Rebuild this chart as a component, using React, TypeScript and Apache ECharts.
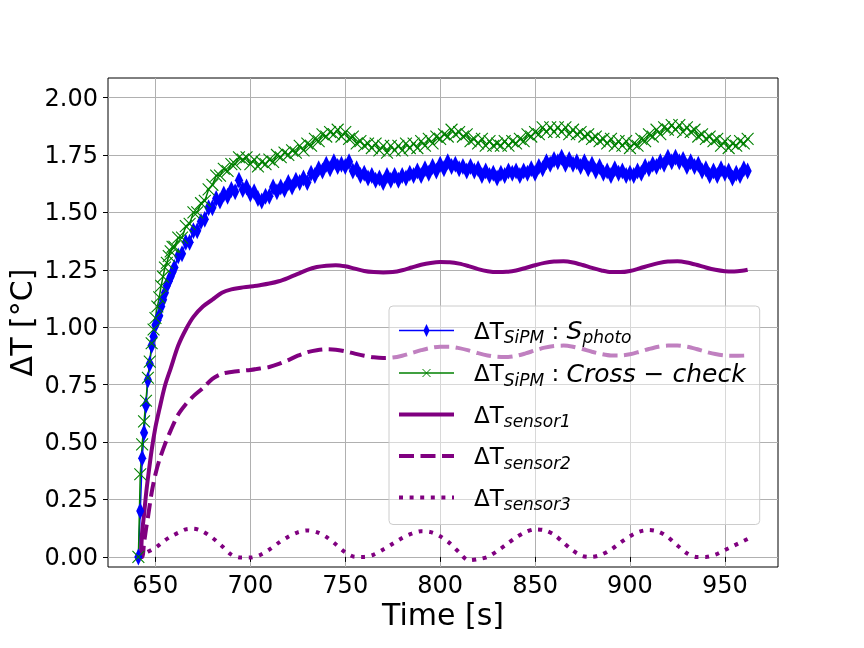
import React, { useEffect, useRef } from 'react';
import * as echarts from 'echarts';

const xTicks = [650, 700, 750, 800, 850, 900, 950];
const yTicks = [0, 0.25, 0.5, 0.75, 1, 1.25, 1.5, 1.75, 2];

const sipmTime = [
  641, 642, 643, 644, 645, 646, 647, 648, 649, 650, 651, 652, 653, 654, 655, 656, 657, 658, 659,
  660, 662, 664, 666, 668, 670, 672, 674, 676, 678,
  680, 682, 684, 686, 688, 690, 692, 694, 696, 698,
  700, 702, 704, 706, 708, 710, 712, 714, 716, 718,
  720, 722, 724, 726, 728, 730, 732, 734, 736, 738,
  740, 742, 744, 746, 748, 750, 752, 754, 756, 758,
  760, 762, 764, 766, 768, 770, 772, 774, 776, 778,
  780, 782, 784, 786, 788, 790, 792, 794, 796, 798,
  800, 802, 804, 806, 808, 810, 812, 814, 816, 818,
  820, 822, 824, 826, 828, 830, 832, 834, 836, 838,
  840, 842, 844, 846, 848, 850, 852, 854, 856, 858,
  860, 862, 864, 866, 868, 870, 872, 874, 876, 878,
  880, 882, 884, 886, 888, 890, 892, 894, 896, 898,
  900, 902, 904, 906, 908, 910, 912, 914, 916, 918,
  920, 922, 924, 926, 928, 930, 932, 934, 936, 938,
  940, 942, 944, 946, 948, 950, 952, 954, 956, 958,
  960, 962,
];

const sipmPhoto = [
  0, 0.2, 0.43, 0.54, 0.66, 0.77, 0.84, 0.92, 0.96, 1.01, 1.03, 1.05, 1.09, 1.12, 1.15, 1.18, 1.2, 1.22, 1.24,
  1.26, 1.31, 1.32, 1.37, 1.37, 1.42, 1.42, 1.46, 1.47, 1.52,
  1.52, 1.56, 1.55, 1.58, 1.57, 1.6, 1.59, 1.64, 1.6, 1.61,
  1.58, 1.59, 1.56, 1.55, 1.57, 1.57, 1.61, 1.59, 1.61, 1.6,
  1.63, 1.61, 1.64, 1.63, 1.65, 1.63, 1.67, 1.66, 1.69, 1.68,
  1.71, 1.69, 1.72, 1.7, 1.71, 1.7, 1.72, 1.68, 1.69, 1.66,
  1.67, 1.65, 1.66, 1.64, 1.65, 1.63, 1.66, 1.64, 1.66, 1.64,
  1.66, 1.65, 1.67, 1.66, 1.68, 1.66, 1.69, 1.67, 1.7, 1.68,
  1.71, 1.69, 1.72, 1.7, 1.71, 1.69, 1.7, 1.68, 1.7, 1.68,
  1.69, 1.66, 1.68, 1.66, 1.67, 1.65, 1.67, 1.66, 1.68, 1.67,
  1.68, 1.66, 1.68, 1.67, 1.69, 1.67, 1.7, 1.69, 1.72, 1.71,
  1.73, 1.72, 1.74, 1.71, 1.73, 1.71, 1.72, 1.7, 1.72, 1.69,
  1.71, 1.68, 1.7, 1.67, 1.68, 1.66, 1.69, 1.67, 1.68, 1.66,
  1.67, 1.66, 1.68, 1.67, 1.7, 1.69, 1.71, 1.7, 1.72, 1.71,
  1.74, 1.72, 1.74, 1.72, 1.73, 1.7, 1.72, 1.7, 1.71, 1.68,
  1.69, 1.66, 1.68, 1.66, 1.69, 1.67, 1.68, 1.65, 1.67, 1.66,
  1.69, 1.68,
];

const sipmCross = [
  0, 0.36, 0.49, 0.59, 0.68, 0.78, 0.85, 0.93, 0.99, 1.04, 1.09, 1.13, 1.18, 1.22, 1.26, 1.28, 1.31, 1.33, 1.35,
  1.35, 1.39, 1.39, 1.44, 1.45, 1.5, 1.5, 1.54, 1.55, 1.6,
  1.62, 1.66, 1.66, 1.69, 1.68, 1.71, 1.71, 1.74, 1.73, 1.74,
  1.71, 1.73, 1.7, 1.72, 1.71, 1.73, 1.72, 1.75, 1.74, 1.76,
  1.75, 1.77, 1.76, 1.79, 1.77, 1.8, 1.79, 1.82, 1.81, 1.84,
  1.83, 1.85, 1.84, 1.86, 1.83, 1.85, 1.82, 1.83, 1.8, 1.81,
  1.79, 1.8, 1.78, 1.8, 1.77, 1.79, 1.76, 1.79, 1.77, 1.79,
  1.77, 1.8, 1.78, 1.8, 1.78, 1.81, 1.79, 1.82, 1.8, 1.83,
  1.82, 1.84, 1.83, 1.86, 1.84, 1.85, 1.83, 1.84, 1.81, 1.82,
  1.8, 1.82, 1.79, 1.81, 1.79, 1.8, 1.79, 1.81, 1.79, 1.81,
  1.8, 1.82, 1.81, 1.84, 1.83, 1.85, 1.84, 1.87, 1.85, 1.87,
  1.85, 1.87, 1.85, 1.87, 1.84, 1.86, 1.84, 1.85, 1.83, 1.84,
  1.82, 1.83, 1.81, 1.82, 1.8, 1.82, 1.79, 1.81, 1.79, 1.81,
  1.78, 1.8, 1.79, 1.82, 1.81, 1.84, 1.83, 1.86, 1.84, 1.87,
  1.86, 1.88, 1.86, 1.88, 1.85, 1.87, 1.85, 1.86, 1.83, 1.84,
  1.82, 1.83, 1.81, 1.82, 1.79, 1.81, 1.78, 1.8, 1.79, 1.81,
  1.8, 1.82,
];

const sensorTime = [
  641, 642, 643, 644, 645, 646, 648, 650, 652, 655, 658, 662, 666, 670,
  675, 680, 685, 690, 695, 700, 705, 710, 715, 720,
  725, 730, 735, 740, 745, 750, 755, 760, 765, 770,
  775, 780, 785, 790, 795, 800, 805, 810, 815, 820,
  825, 830, 835, 840, 845, 850, 855, 860, 865, 870,
  875, 880, 885, 890, 895, 900, 905, 910, 915, 920,
  925, 930, 935, 940, 945, 950, 955, 960,
  962,
];

const sensor1 = [
  0, 0, 0.11, 0.185, 0.27, 0.34, 0.465, 0.565, 0.64, 0.745, 0.82, 0.92, 0.99, 1.045,
  1.09, 1.12, 1.15, 1.165, 1.172, 1.177, 1.183, 1.19, 1.2, 1.215,
  1.232, 1.25, 1.262, 1.268, 1.27, 1.265, 1.255, 1.245, 1.24, 1.238,
  1.24, 1.248, 1.26, 1.272, 1.28, 1.284, 1.283, 1.277, 1.266, 1.253,
  1.244, 1.24, 1.241, 1.247, 1.258, 1.27, 1.28, 1.286, 1.287, 1.282,
  1.271, 1.258, 1.247, 1.24, 1.24, 1.245, 1.256, 1.268, 1.279, 1.286,
  1.287, 1.282, 1.272, 1.26, 1.25, 1.244, 1.243, 1.247,
  1.25,
];

const sensor2 = [
  0, 0, 0, 0.06, 0.12, 0.17, 0.28, 0.36, 0.42, 0.49, 0.55, 0.62, 0.665, 0.7,
  0.735, 0.775, 0.797, 0.805, 0.81, 0.814, 0.82, 0.827, 0.84, 0.857,
  0.876, 0.891, 0.9, 0.904, 0.902, 0.895, 0.885, 0.876, 0.869, 0.866,
  0.868, 0.876, 0.888, 0.9, 0.91, 0.915, 0.915, 0.909, 0.899, 0.887,
  0.877, 0.871, 0.87, 0.875, 0.886, 0.899, 0.911, 0.918, 0.92, 0.915,
  0.905, 0.893, 0.883, 0.877, 0.877, 0.882, 0.893, 0.905, 0.915, 0.92,
  0.92, 0.915, 0.905, 0.893, 0.883, 0.877, 0.876, 0.877,
  0.878,
];

const sensor3 = [
  0, 0.005, 0.01, 0.014, 0.018, 0.022, 0.031, 0.04, 0.052, 0.072, 0.088, 0.105, 0.12, 0.123,
  0.11, 0.083, 0.047, 0.01, -0.003, -0.003, 0.008, 0.032, 0.062, 0.088,
  0.107, 0.115, 0.108, 0.087, 0.055, 0.02, 0.001, 0, 0.01, 0.032,
  0.057, 0.082, 0.101, 0.112, 0.108, 0.09, 0.06, 0.02, -0.015, -0.01,
  0, 0.025, 0.055, 0.085, 0.108, 0.12, 0.116, 0.097, 0.062, 0.027,
  0.004, 0, 0.01, 0.032, 0.062, 0.09, 0.11, 0.117, 0.11, 0.086,
  0.05, 0.016, 0, 0, 0.01, 0.03, 0.05, 0.07,
  0.078,
];

const seriesNames = ['SiPM_photo', 'SiPM_cross', 'sensor1', 'sensor2', 'sensor3'];
const legendLabels: Record<string, string> = {
  SiPM_photo: '{t|ΔT}{s|SiPM}{t| : }{i|S}{s|photo}',
  SiPM_cross: '{t|ΔT}{s|SiPM}{t| : }{i|Cross − check}',
  sensor1: '{t|ΔT}{s|sensor1}',
  sensor2: '{t|ΔT}{s|sensor2}',
  sensor3: '{t|ΔT}{s|sensor3}',
};

const FONT = 'DejaVu Sans';
const PURPLE = '#800080';
const DIAMOND = 'path://M-10 0M10 20M0 0L4.8 10L0 20L-4.8 10Z';
const CROSS = 'path://M-3 -3M13 13M0 0L10 10M10 0L0 10';

function zip(xs: number[], ys: number[]) {
  return xs.map((x, i) => [x, ys[i]]);
}

export default function App() {
  const ref = useRef<HTMLDivElement>(null);
  useEffect(() => {
    if (!ref.current) return;
    const chart = echarts.init(ref.current, null, { renderer: 'svg' });
    const noLegendSymbol = { color: 'rgba(0,0,0,0)', borderColor: 'rgba(0,0,0,0)', borderWidth: 0 };
    chart.setOption({
      animation: false,
      grid: {
        left: 108, right: 86, top: 78, bottom: 81,
        containLabel: false,
        outerBoundsMode: 'none',
        show: true, borderColor: '#000', borderWidth: 1, backgroundColor: 'rgba(0,0,0,0)',
      },
      xAxis: {
        type: 'value', min: 625, max: 978,
        name: 'Time [s]', nameLocation: 'middle', nameGap: 32, nameMoveOverlap: false,
        nameTextStyle: { fontFamily: FONT, fontSize: 30, color: '#000' },
        axisLine: { show: false },
        axisTick: { show: true, length: 5, inside: false, customValues: xTicks, lineStyle: { color: '#000', width: 1 } },
        axisLabel: { customValues: xTicks, fontFamily: FONT, fontSize: 24, color: '#000', margin: 6 },
        splitLine: { show: true, lineStyle: { color: '#b0b0b0', width: 1 } },
      },
      yAxis: {
        type: 'value', min: -0.044, max: 2.085,
        name: 'ΔT [°C]', nameLocation: 'middle', nameGap: 72, nameRotate: 90, nameMoveOverlap: false,
        nameTextStyle: { fontFamily: FONT, fontSize: 30, color: '#000' },
        axisLine: { show: false },
        axisTick: { show: true, length: 5, inside: false, customValues: yTicks, lineStyle: { color: '#000', width: 1 } },
        axisLabel: {
          customValues: yTicks, fontFamily: FONT, fontSize: 24, color: '#000', margin: 10,
          formatter: (v: number) => v.toFixed(2),
        },
        splitLine: { show: true, lineStyle: { color: '#b0b0b0', width: 1 } },
      },
      legend: {
        show: true, orient: 'vertical', left: 389, top: 306,
        itemWidth: 55, itemHeight: 16, itemGap: 15,
        padding: [12, 14, 12, 8],
        backgroundColor: 'rgba(255,255,255,0.5)', borderColor: '#cccccc', borderWidth: 1, borderRadius: 4,
        selectedMode: false,
        data: [
          { name: 'SiPM_photo', itemStyle: { color: 'blue', borderWidth: 0 }, lineStyle: { width: 1.5 } },
          { name: 'SiPM_cross', itemStyle: { color: 'green', borderColor: 'green', borderWidth: 1 }, lineStyle: { width: 1.5 } },
          { name: 'sensor1', itemStyle: noLegendSymbol, lineStyle: { width: 4 } },
          { name: 'sensor2', itemStyle: noLegendSymbol, lineStyle: { width: 4 } },
          { name: 'sensor3', itemStyle: noLegendSymbol, lineStyle: { width: 4 } },
        ],
        formatter: (name: string) => legendLabels[name] || name,
        textStyle: {
          fontFamily: FONT, fontSize: 23, color: '#000', padding: [0, 0, 0, 15],
          rich: {
            t: { fontFamily: FONT, fontSize: 23, lineHeight: 30, color: '#000' },
            i: { fontFamily: FONT, fontSize: 25, fontStyle: 'italic', lineHeight: 30, color: '#000' },
            s: { fontFamily: FONT, fontSize: 17, fontStyle: 'italic', lineHeight: 19, verticalAlign: 'bottom', color: '#000' },
          },
        },
      },
      series: [
        {
          name: seriesNames[0], type: 'line', data: zip(sipmTime, sipmPhoto),
          symbol: DIAMOND, symbolSize: 17, showSymbol: true, showAllSymbol: true,
          lineStyle: { color: 'blue', width: 1.5 }, itemStyle: { color: 'blue' },
          silent: true, emphasis: { disabled: true },
        },
        {
          name: seriesNames[1], type: 'line', data: zip(sipmTime, sipmCross),
          symbol: CROSS, symbolSize: 19, showSymbol: true, showAllSymbol: true,
          lineStyle: { color: 'green', width: 1.5 }, itemStyle: { color: 'green', borderColor: 'green', borderWidth: 1.1 },
          silent: true, emphasis: { disabled: true },
        },
        {
          name: seriesNames[2], type: 'line', data: zip(sensorTime, sensor1),
          symbol: 'none', showSymbol: false, smooth: 0.3,
          lineStyle: { color: PURPLE, width: 4, type: 'solid' }, itemStyle: { color: PURPLE },
          silent: true, emphasis: { disabled: true },
        },
        {
          name: seriesNames[3], type: 'line', data: zip(sensorTime, sensor2),
          symbol: 'none', showSymbol: false, smooth: 0.3,
          lineStyle: { color: PURPLE, width: 4, type: [15, 6.5], cap: 'butt' }, itemStyle: { color: PURPLE },
          silent: true, emphasis: { disabled: true },
        },
        {
          name: seriesNames[4], type: 'line', data: zip(sensorTime, sensor3),
          symbol: 'none', showSymbol: false, smooth: 0.3,
          lineStyle: { color: PURPLE, width: 4, type: [4, 6.6], cap: 'butt' }, itemStyle: { color: PURPLE },
          silent: true, emphasis: { disabled: true },
        },
      ],
    });
    return () => chart.dispose();
  }, []);
  return <div ref={ref} style={{ position: 'fixed', left: 0, top: 0, width: 864, height: 648 }} />;
}
